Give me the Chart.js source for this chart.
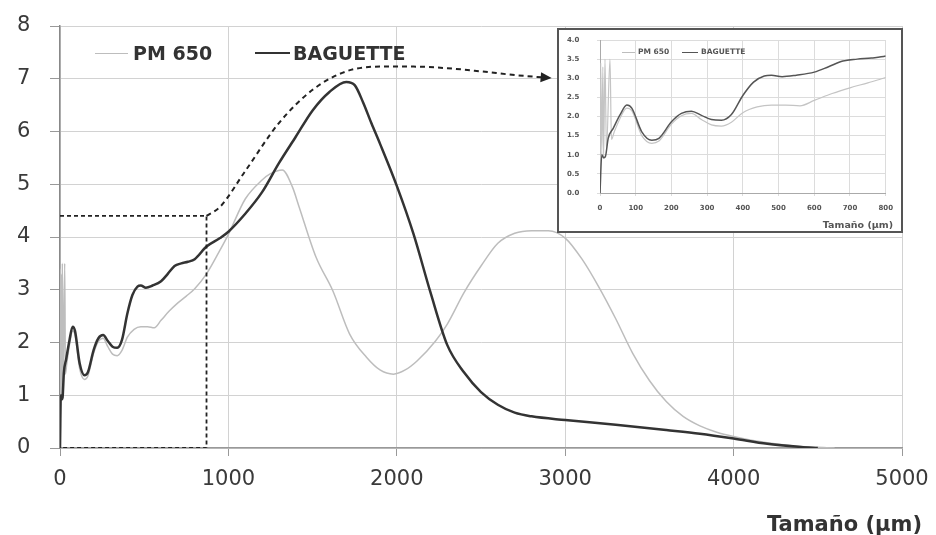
<!DOCTYPE html>
<html>
<head>
<meta charset="utf-8">
<script src="https://cdn.jsdelivr.net/npm/chart.js@4.4.1/dist/chart.umd.min.js"></script>
<style>
  html, body { margin: 0; padding: 0; background: #fff; }
  #wrap { position: relative; width: 936px; height: 535px; font-family: "DejaVu Sans", sans-serif; overflow: hidden; }
  #main { position: absolute; left: 0; top: 0; }
  #insetBox { position: absolute; left: 557px; top: 28px; width: 342px; height: 201px; border: 2px solid #555; background: #fff; }
  #inset { position: absolute; left: 0; top: 0; }
  .txt { position: absolute; white-space: nowrap; font-weight: bold; color: #333; }
  .sw { position: absolute; height: 0; }
</style>
</head>
<body>
<div id="wrap">
  <canvas id="main" width="936" height="535"></canvas>
  <div id="insetBox"><canvas id="inset" width="342" height="201"></canvas></div>

  <!-- leyenda principal -->
  <div class="sw" style="left:95px; top:53px; width:33px; border-top:1.5px solid #bdbdbd;"></div>
  <div class="txt" style="left:133px; top:44px; font-size:19px; line-height:19px;">PM 650</div>
  <div class="sw" style="left:255px; top:52px; width:35px; border-top:2.5px solid #333;"></div>
  <div class="txt" style="left:293px; top:44px; font-size:19px; line-height:19px;">BAGUETTE</div>
  <div class="txt" style="right:14px; top:514px; font-size:21px; line-height:21px;">Tamaño (µm)</div>

  <!-- leyenda del recuadro -->
  <div class="sw" style="left:622px; top:52px; width:13px; border-top:1px solid #bdbdbd;"></div>
  <div class="txt" style="left:638px; top:48px; font-size:7.5px; line-height:8px; color:#555;">PM 650</div>
  <div class="sw" style="left:682px; top:52px; width:16px; border-top:1.2px solid #555;"></div>
  <div class="txt" style="left:701px; top:48px; font-size:7.5px; line-height:8px; color:#555;">BAGUETTE</div>
  <div class="txt" style="right:43px; top:220px; font-size:9.5px; line-height:10px; color:#555;">Tamaño (µm)</div>
</div>

<script>
// Tamaño (µm) y valores
const bagX = [0, 5, 10, 15, 23, 37, 56, 75, 89, 117, 145, 165, 200, 228, 256, 284, 312, 340, 368, 400, 430, 460, 480, 510, 550, 600, 640, 680, 720, 760, 800, 870, 950, 1000, 1100, 1200, 1300, 1400, 1500, 1600, 1700, 1750, 1800, 1850, 1900, 2000, 2100, 2200, 2300, 2400, 2500, 2600, 2700, 2800, 3000, 3300, 3600, 3800, 4000, 4200, 4400, 4500];
const bagY = [0, 1.0, 0.92, 0.95, 1.43, 1.69, 2.04, 2.3, 2.22, 1.6, 1.38, 1.43, 1.86, 2.08, 2.14, 2.03, 1.92, 1.9, 2.05, 2.55, 2.9, 3.06, 3.08, 3.04, 3.08, 3.16, 3.3, 3.45, 3.5, 3.53, 3.58, 3.82, 3.98, 4.1, 4.44, 4.85, 5.4, 5.9, 6.4, 6.75, 6.94, 6.88, 6.55, 6.15, 5.77, 4.97, 4.05, 2.95, 1.95, 1.43, 1.06, 0.82, 0.67, 0.6, 0.53, 0.44, 0.34, 0.27, 0.18, 0.08, 0.02, 0];

const pmX = [0, 2, 5, 8, 10, 14, 18, 28, 32, 40, 56, 75, 89, 117, 145, 165, 200, 228, 256, 284, 312, 340, 368, 400, 440, 480, 520, 560, 600, 650, 700, 750, 800, 870, 950, 1000, 1100, 1200, 1250, 1320, 1380, 1420, 1520, 1620, 1720, 1820, 1900, 1980, 2050, 2120, 2230, 2300, 2400, 2500, 2600, 2700, 2800, 2900, 3000, 3100, 3200, 3300, 3400, 3500, 3600, 3700, 3800, 3900, 4000, 4200, 4400, 4600];
const pmY = [0, 3.4, 1.0, 3.3, 0.9, 3.5, 1.1, 3.5, 1.4, 1.6, 1.95, 2.22, 2.15, 1.5, 1.3, 1.36, 1.8, 2.02, 2.08, 1.92, 1.78, 1.75, 1.85, 2.1, 2.25, 2.3, 2.3, 2.28, 2.42, 2.6, 2.75, 2.88, 3.02, 3.3, 3.75, 4.05, 4.72, 5.08, 5.2, 5.27, 4.95, 4.57, 3.62, 2.98, 2.16, 1.72, 1.48, 1.4, 1.48, 1.65, 2.03, 2.35, 2.95, 3.45, 3.88, 4.07, 4.12, 4.12, 3.98, 3.58, 3.05, 2.45, 1.8, 1.28, 0.88, 0.6, 0.42, 0.3, 0.22, 0.1, 0.03, 0];

// flecha discontinua hacia el recuadro
const guideX = [870, 950, 1100, 1300, 1500, 1700, 1900, 2100, 2300, 2500, 2700, 2890];
const guideY = [4.4, 4.57, 5.25, 6.16, 6.79, 7.14, 7.23, 7.23, 7.2, 7.14, 7.07, 7.02];

// rectángulo discontinuo (zona ampliada)
const boxX = [0, 870, 870, 0];
const boxY = [4.4, 4.4, 0, 0];

const yTicksMain = [0, 1, 2, 3, 4, 5, 6, 7, 8];
const xTicksMain = [0, 1000, 2000, 3000, 4000, 5000];
const yTicksInset = [0, 0.5, 1, 1.5, 2, 2.5, 3, 3.5, 4];
const xTicksInset = [0, 100, 200, 300, 400, 500, 600, 700, 800];

const toPts = (xs, ys) => xs.map((x, i) => ({ x: x, y: ys[i] }));

const arrowHead = {
    id: 'arrowHead',
    afterDatasetsDraw(chart) {
        const pts = chart.getDatasetMeta(2).data;
        const a = pts[pts.length - 2], b = pts[pts.length - 1];
        const ang = Math.atan2(b.y - a.y, b.x - a.x);
        const ctx = chart.ctx;
        ctx.save();
        ctx.translate(b.x, b.y);
        ctx.rotate(ang);
        ctx.beginPath();
        ctx.moveTo(5, 0);
        ctx.lineTo(-6, -5);
        ctx.lineTo(-6, 5);
        ctx.closePath();
        ctx.fillStyle = '#222';
        ctx.fill();
        ctx.restore();
    }
};

Chart.defaults.font.family = '"DejaVu Sans", sans-serif';

new Chart(document.getElementById('main'), {
    type: 'line',
    data: {
        datasets: [
            { label: 'BAGUETTE', data: toPts(bagX, bagY), borderColor: '#333', borderWidth: 2.5, order: 1, cubicInterpolationMode: 'monotone' },
            { label: 'PM 650', data: toPts(pmX, pmY), borderColor: '#bdbdbd', borderWidth: 1.5, order: 2, cubicInterpolationMode: 'monotone' },
            { label: 'guia', data: toPts(guideX, guideY), borderColor: '#222', borderWidth: 2, borderDash: [5, 4], order: 0, cubicInterpolationMode: 'monotone' },
            { label: 'caja', data: toPts(boxX, boxY), borderColor: '#222', borderWidth: 1.8, borderDash: [4, 3], order: 0, tension: 0 }
        ]
    },
    options: {
        responsive: false,
        animation: false,
        elements: { point: { radius: 0 } },
        layout: { padding: { left: 17, right: 34, top: 26, bottom: 0 } },
        plugins: { legend: { display: false }, tooltip: { enabled: false } },
        scales: {
            x: {
                type: 'linear', min: 0, max: 5000,
                afterBuildTicks: (s) => { s.ticks = xTicksMain.map(v => ({ value: v })); },
                afterFit: (s) => { s.height = 87; },
                grid: { color: '#d2d2d2', tickLength: 8, tickColor: '#999' },
                border: { color: '#999', width: 1.5 },
                ticks: { color: '#3a3a3a', font: { size: 21, lineHeight: 1.7 }, padding: 6, callback: (v) => String(v) }
            },
            y: {
                min: 0, max: 8,
                afterBuildTicks: (s) => { s.ticks = yTicksMain.map(v => ({ value: v })); },
                afterFit: (s) => { s.width = 43; },
                grid: { color: '#d2d2d2', tickLength: 10, tickColor: '#999' },
                border: { color: '#888', width: 1.5 },
                ticks: { color: '#3a3a3a', font: { size: 21 }, padding: 0, crossAlign: 'far', callback: (v) => String(v) }
            }
        }
    },
    plugins: [arrowHead]
});

new Chart(document.getElementById('inset'), {
    type: 'line',
    data: {
        datasets: [
            { label: 'BAGUETTE', data: toPts(bagX, bagY), borderColor: '#555', borderWidth: 1.5, order: 1, cubicInterpolationMode: 'monotone' },
            { label: 'PM 650', data: toPts(pmX, pmY), borderColor: '#c4c4c4', borderWidth: 1.2, order: 2, cubicInterpolationMode: 'monotone' }
        ]
    },
    options: {
        responsive: false,
        animation: false,
        elements: { point: { radius: 0 } },
        layout: { padding: { left: 8, right: 15, top: 10, bottom: 0 } },
        plugins: { legend: { display: false }, tooltip: { enabled: false } },
        scales: {
            x: {
                type: 'linear', min: 0, max: 800,
                afterBuildTicks: (s) => { s.ticks = xTicksInset.map(v => ({ value: v })); },
                afterFit: (s) => { s.height = 38; },
                grid: { color: '#dcdcdc', tickLength: 3 },
                border: { color: '#aaa', width: 1 },
                ticks: { color: '#555', font: { size: 7, weight: 'bold' }, padding: 8, callback: (v) => String(v) }
            },
            y: {
                min: 0, max: 4,
                afterBuildTicks: (s) => { s.ticks = yTicksInset.map(v => ({ value: v })); },
                afterFit: (s) => { s.width = 33; },
                grid: { color: '#dcdcdc', tickLength: 3 },
                border: { color: '#aaa', width: 1 },
                ticks: { color: '#555', font: { size: 7, weight: 'bold' }, padding: 0, crossAlign: 'far', callback: (v) => v.toFixed(1) }
            }
        }
    }
});
</script>
</body>
</html>
